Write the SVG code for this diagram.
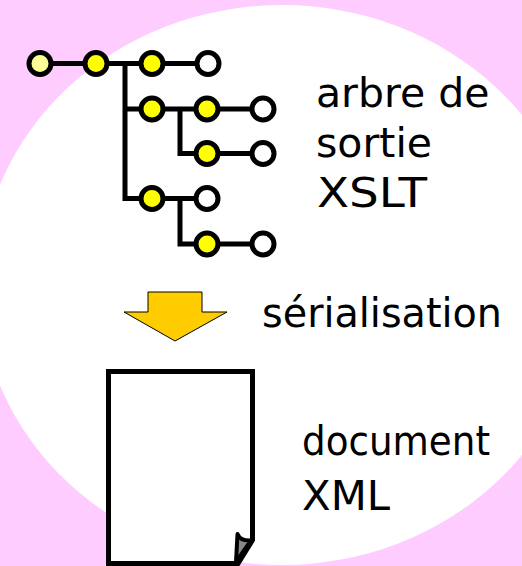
<svg xmlns="http://www.w3.org/2000/svg" width="522" height="566" viewBox="0 0 522 566">
  <style>
    .lbl { font-family: "DejaVu Sans", "Liberation Sans", sans-serif; font-size: 41px; fill: #000; }
    .edge { stroke: #000; stroke-width: 5; fill: none; stroke-linejoin: miter; stroke-linecap: butt; }
    .nd { stroke: #000; stroke-width: 5; }
    .full { fill: #ffff00; }
    .root { fill: #ffff99; }
    .leaf { fill: #ffffff; }
  </style>
  <rect x="0" y="0" width="522" height="566" fill="#ffccff"/>
  <ellipse cx="282" cy="285" rx="302" ry="280" fill="#ffffff"/>

  <g id="connectors">
    <path class="edge" d="M40 63.5 H208"/>
    <path class="edge" d="M125 63.5 V198.5 H152"/>
    <path class="edge" d="M125 109 H263"/>
    <path class="edge" d="M180 109 V153.5 H263"/>
    <path class="edge" d="M152 198.5 H207"/>
    <path class="edge" d="M180 198.5 V244 H263"/>
    <path d="M148 292 H202 V312 H227 L175 341 L124 312 H148 Z" fill="#ffcc00" stroke="#000" stroke-width="1"/>
  </g>

  <g id="tree">
    <circle id="n1" class="nd root" cx="40" cy="63.5" r="11"/>
    <circle id="n2" class="nd full" cx="96" cy="63.5" r="11"/>
    <circle id="n3" class="nd full" cx="152" cy="63.5" r="11"/>
    <circle id="n4" class="nd leaf" cx="208" cy="63.5" r="11"/>
    <circle id="n5" class="nd full" cx="152" cy="109" r="11"/>
    <circle id="n6" class="nd full" cx="207" cy="109" r="11"/>
    <circle id="n7" class="nd leaf" cx="263" cy="109" r="11"/>
    <circle id="n8" class="nd full" cx="207" cy="153.5" r="11"/>
    <circle id="n9" class="nd leaf" cx="263" cy="153.5" r="11"/>
    <circle id="n10" class="nd full" cx="152" cy="198.5" r="11"/>
    <circle id="n11" class="nd leaf" cx="207" cy="198.5" r="11"/>
    <circle id="n12" class="nd full" cx="207" cy="244" r="11"/>
    <circle id="n13" class="nd leaf" cx="263" cy="244" r="11"/>
  </g>

  <g id="tree-label">
    <text class="lbl" x="316" y="107">arbre de</text>
    <text class="lbl" x="316" y="157">sortie</text>
    <text class="lbl" x="317" y="207" textLength="110" lengthAdjust="spacingAndGlyphs">XSLT</text>
  </g>

  <g id="serialisation-label">
    <text class="lbl" x="262" y="327" textLength="240" lengthAdjust="spacingAndGlyphs">sérialisation</text>
  </g>

  <g id="document">
    <path d="M108.5 371.5 H252.5 V540 L238 563.5 H108.5 Z" fill="#ffffff" stroke="#000" stroke-width="5" stroke-linejoin="miter"/>
    <path d="M236 562 L237.5 534 Q240 541 251 540.5 Z" fill="#888888" stroke="#000" stroke-width="4" stroke-linejoin="round"/>
  </g>

  <g id="document-label">
    <text class="lbl" x="302" y="455" textLength="188" lengthAdjust="spacingAndGlyphs">document</text>
    <text class="lbl" x="302" y="510" textLength="88" lengthAdjust="spacingAndGlyphs">XML</text>
  </g>
</svg>
